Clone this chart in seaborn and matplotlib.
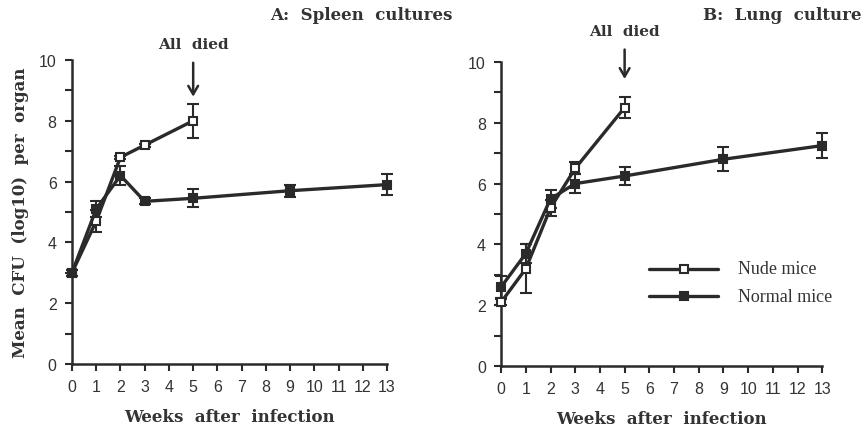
import numpy as np
import pandas as pd
import matplotlib
matplotlib.use("Agg")
import matplotlib.pyplot as plt
import seaborn as sns

# Weeks after infection
weeks_nude = [0, 1, 2, 3, 5]
weeks_normal = [0, 1, 2, 3, 5, 9, 13]

# A: spleen cultures, mean CFU (log10) per organ
spleen_nude = [3.0, 4.7, 6.8, 7.2, 8.0]
spleen_nude_err = [0.1, 0.35, 0.05, 0.05, 0.55]
spleen_normal = [3.0, 5.1, 6.2, 5.35, 5.45, 5.7, 5.9]
spleen_normal_err = [0.1, 0.25, 0.3, 0.1, 0.3, 0.2, 0.35]

# B: lung culture
lung_nude = [2.1, 3.2, 5.2, 6.5, 8.5]
lung_nude_err = [0.1, 0.8, 0.25, 0.2, 0.35]
lung_normal = [2.6, 3.7, 5.5, 6.0, 6.25, 6.8, 7.25]
lung_normal_err = [0.35, 0.3, 0.3, 0.3, 0.3, 0.4, 0.4]

x_ticks = list(range(0, 14))
y_ticks = [0, 2, 4, 6, 8, 10]

sns.set_style("ticks")
plt.rcParams["font.family"] = ["DejaVu Sans"]

ink = "#2a2a2a"
fig = plt.figure(figsize=(8.61, 4.27), dpi=100)
ax_a = fig.add_axes([0.0836, 0.1452, 0.366, 0.712])
ax_b = fig.add_axes([0.582, 0.1405, 0.373, 0.712])


def panel(ax, nude, nude_err, normal, normal_err, title, title_x, title_y,
          arrow_top, arrow_gap, note_y):
    df = pd.concat([
        pd.DataFrame({"week": weeks_nude, "cfu": nude, "err": nude_err,
                      "group": "Nude mice"}),
        pd.DataFrame({"week": weeks_normal, "cfu": normal, "err": normal_err,
                      "group": "Normal mice"}),
    ])
    sns.lineplot(data=df, x="week", y="cfu", hue="group", style="group",
                 palette={"Nude mice": ink, "Normal mice": ink},
                 markers={"Nude mice": "s", "Normal mice": "s"},
                 dashes=False, lw=2.4, markersize=6, ax=ax, legend=False,
                 clip_on=False, zorder=3)
    for line, face in zip(ax.lines, ["white", ink]):
        line.set_markerfacecolor(face)
        line.set_markeredgecolor(ink)
        line.set_markeredgewidth(1.5)
    for grp, sub in df.groupby("group"):
        ax.errorbar(sub["week"], sub["cfu"], yerr=sub["err"], fmt="none",
                    ecolor=ink, elinewidth=1.5, capsize=4, capthick=1.5,
                    clip_on=False, zorder=2)

    ax.set_xlim(0, 13)
    ax.set_ylim(0, 10)
    ax.set_xticks(x_ticks)
    ax.set_xticklabels([str(t) for t in x_ticks], fontsize=11.5,
                       family="Liberation Sans", color="#333")
    ax.set_yticks(y_ticks)
    ax.set_yticks(range(0, 11), minor=True)
    ax.set_yticklabels([str(t) for t in y_ticks], fontsize=11.5,
                       family="Liberation Sans", color="#333")
    ax.tick_params(axis="both", which="both", direction="out", length=5,
                   width=1.5, color=ink, pad=6)
    sns.despine(ax=ax)
    for s in ("left", "bottom"):
        ax.spines[s].set_linewidth(1.8)
        ax.spines[s].set_color(ink)
    ax.set_xlabel("Weeks  after  infection", fontsize=12, fontweight="bold",
                  family="DejaVu Serif", color="#333", labelpad=10)
    ax.set_ylabel("")
    ax.set_facecolor("white")

    ax.text(title_x, title_y, title, transform=ax.transAxes, fontsize=12,
            fontweight="bold", family="DejaVu Serif", color="#333",
            ha="left", va="center")
    ax.annotate("", xy=(5, nude[-1] + nude_err[-1] + arrow_gap),
                xytext=(5, arrow_top),
                arrowprops=dict(arrowstyle="->,head_length=0.6,head_width=0.35",
                                lw=1.8, color=ink),
                annotation_clip=False)
    ax.text(5, note_y, "All  died", fontsize=11, fontweight="bold",
            family="DejaVu Serif", color="#333", ha="center", va="bottom")


panel(ax_a, spleen_nude, spleen_nude_err, spleen_normal, spleen_normal_err,
      "A:  Spleen  cultures", 0.63, 1.148, 10.0, 0.15, 10.28)
panel(ax_b, lung_nude, lung_nude_err, lung_normal, lung_normal_err,
      "B:  Lung  culture", 0.63, 1.155, 10.5, 0.5, 10.78)

ax_a.set_ylabel("Mean  CFU  (log10)  per  organ", fontsize=12,
                fontweight="bold", family="DejaVu Serif", color="#333",
                labelpad=7)

# Legend drawn as line-with-marker samples
for yv, face, lab in [(3.2, "white", "Nude mice"), (2.3, ink, "Normal mice")]:
    ax_b.plot([6.0, 8.8], [yv, yv], color=ink, lw=2.4, clip_on=False)
    ax_b.plot([7.4], [yv], marker="s", markersize=6, markerfacecolor=face,
              markeredgecolor=ink, markeredgewidth=1.5, clip_on=False)
    ax_b.text(9.6, yv, lab, fontsize=13, family="Liberation Serif",
              color="#333", va="center", ha="left")

fig.savefig("out.png", dpi=100, facecolor="white")
